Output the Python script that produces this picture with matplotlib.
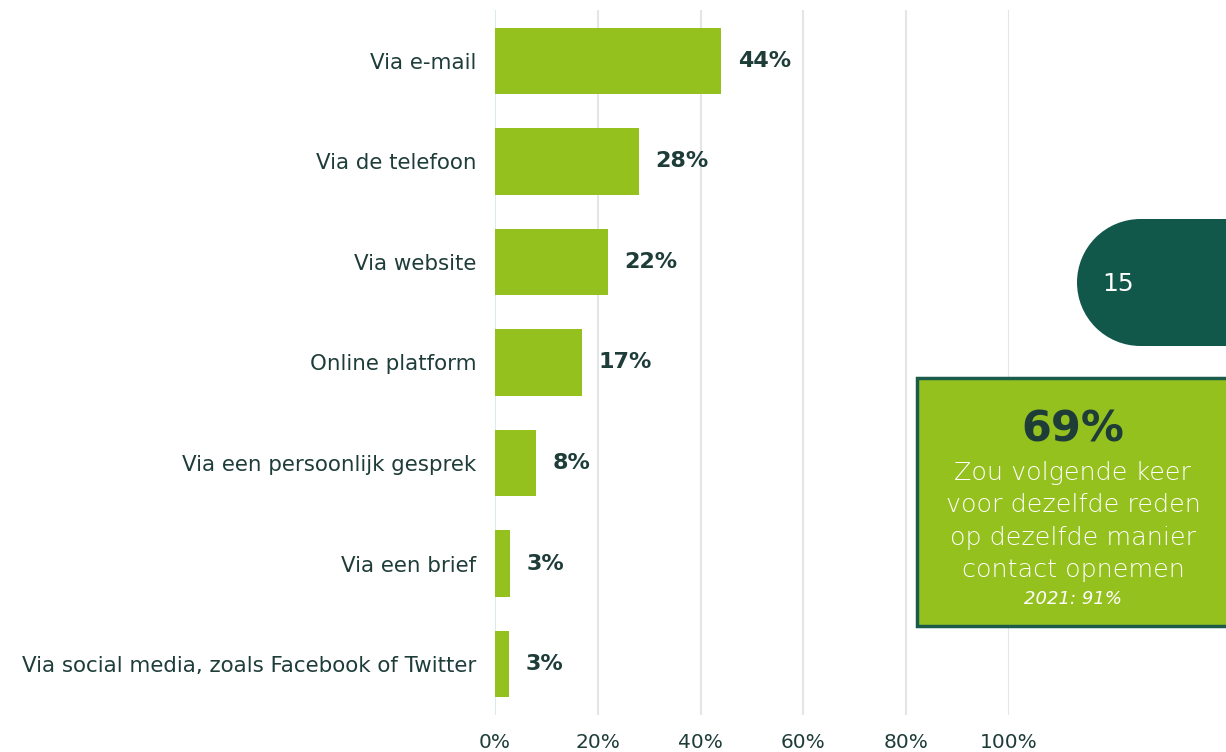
import matplotlib
matplotlib.use("Agg")
import matplotlib.pyplot as plt
from matplotlib.patches import Rectangle, Circle

categories = [
    "Via e-mail",
    "Via de telefoon",
    "Via website",
    "Online platform",
    "Via een persoonlijk gesprek",
    "Via een brief",
    "Via social media, zoals Facebook of Twitter",
]
values = [44, 28, 22, 17, 8, 3, 3]
bar_widths = [44, 28, 22, 17, 8, 3, 2.7]
xticks = [0, 20, 40, 60, 80, 100]
page_number = "15"
box_big = "69%"
box_lines = ["Zou volgende keer", "voor dezelfde reden", "op dezelfde manier", "contact opnemen"]
box_note = "2021: 91%"

GREEN = "#95c11f"
DARK = "#1e3d39"
DEEP = "#11584a"

plt.rcParams["font.family"] = ["DejaVu Sans"]

W, H = 1226, 752
fig = plt.figure(figsize=(W / 100, H / 100), dpi=100)
ax = fig.add_axes([495 / W, 1 - 715 / H, (1009 - 495) / W, (715 - 10) / H])

y = list(range(len(categories)))
ax.barh(y, bar_widths, height=0.66, color=GREEN, zorder=3)
for yi, v, w in zip(y, values, bar_widths):
    ax.text(w + 3.2, yi, f"{v}%", va="center", ha="left", fontsize=16,
            fontweight="bold", color=DARK)

ax.set_xlim(0, 100)
ax.set_ylim(6.505, -0.505)
ax.set_yticks(y)
ax.set_yticklabels(categories, fontsize=15.4, color=DARK)
ax.set_xticks(xticks)
ax.set_xticklabels([f"{t}%" for t in xticks], fontsize=14.5, color=DARK)
ax.tick_params(length=0)
ax.tick_params(axis="y", pad=13.5)
ax.tick_params(axis="x", pad=13)
for t in xticks:
    ax.axvline(t, color="#d8ecec" if t == 0 else "#e3e6e6", lw=1.5, zorder=1)
for s in ax.spines.values():
    s.set_visible(False)

# overlay in pixel coordinates for the side decorations
ov = fig.add_axes([0, 0, 1, 1], zorder=5)
ov.set_xlim(0, W)
ov.set_ylim(H, 0)
ov.axis("off")
ov.patch.set_alpha(0)

ov.add_patch(Circle((1140.5, 282.5), 63.5, color=DEEP, lw=0))
ov.add_patch(Rectangle((1140, 219), 90, 127, color=DEEP, lw=0))
ov.text(1118, 284, page_number, color="white", fontsize=18, ha="center", va="center")

ov.add_patch(Rectangle((917, 378), 320, 248, facecolor=GREEN, edgecolor="#1b5b49", lw=2.5))
ov.text(1073, 430, box_big, color=DARK, fontsize=31, fontweight="bold", ha="center", va="center")
for i, line in enumerate(box_lines):
    ov.text(1073, 473 + i * 32.5, line, color="white", fontsize=18.3, fontweight="light",
            ha="center", va="center")
ov.text(1073, 599, box_note, color="white", fontsize=13, style="italic",
        ha="center", va="center")

fig.savefig("out.png", dpi=100)
